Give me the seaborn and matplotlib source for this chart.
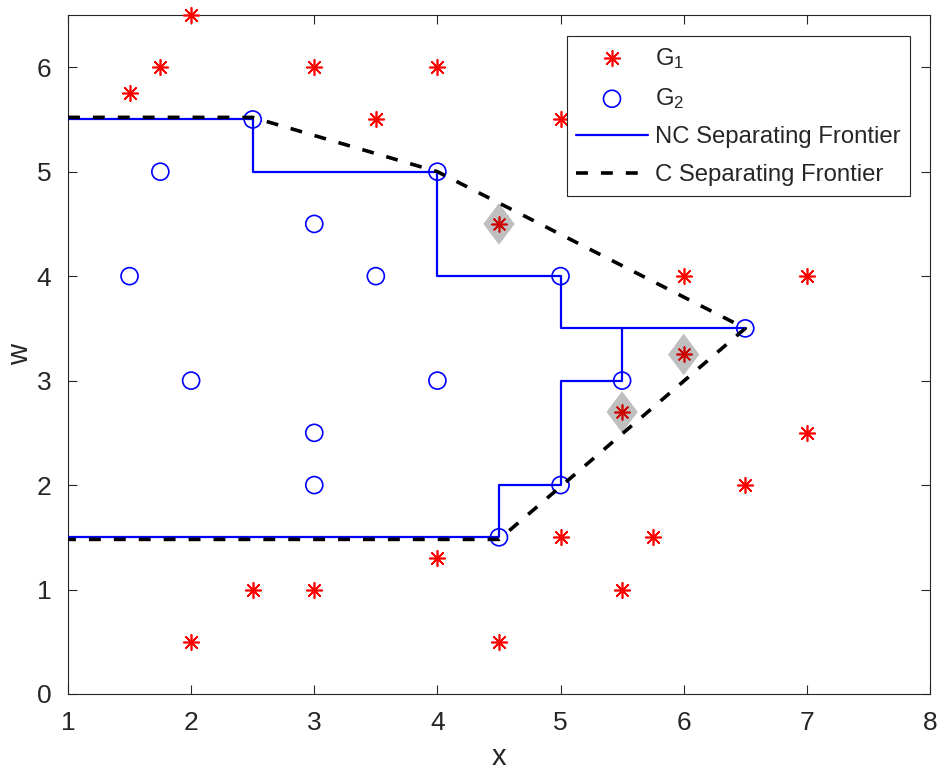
import matplotlib
matplotlib.use("Agg")
import matplotlib.pyplot as plt
import seaborn as sns
import numpy as np
from matplotlib.path import Path

# Group 1 observations (red asterisks)
g1_x = [2, 1.5, 1.75, 3, 4, 3.5, 5, 4.5, 6, 7, 6, 5.5, 7, 6.5, 5, 5.75, 4, 2.5, 3, 5.5, 2, 4.5]
g1_y = [6.5, 5.75, 6, 6, 6, 5.5, 5.5, 4.5, 4, 4, 3.25, 2.7, 2.5, 2, 1.5, 1.5, 1.3, 1, 1, 1, 0.5, 0.5]

# Group 1 observations that fall between the two frontiers (highlighted)
hl_x = [4.5, 6, 5.5]
hl_y = [4.5, 3.25, 2.7]

# Group 2 observations (blue circles)
g2_x = [2.5, 1.75, 4, 3, 1.5, 3.5, 5, 6.5, 2, 4, 5.5, 3, 3, 5, 4.5]
g2_y = [5.5, 5, 5, 4.5, 4, 4, 4, 3.5, 3, 3, 3, 2.5, 2, 2, 1.5]

# Non-convex separating frontier: upper and lower staircase
nc_up_x = [1, 2.5, 2.5, 4, 4, 5, 5, 6.5]
nc_up_y = [5.5, 5.5, 5, 5, 4, 4, 3.5, 3.5]
nc_lo_x = [1, 4.5, 4.5, 5, 5, 5.5, 5.5]
nc_lo_y = [1.5, 1.5, 2, 2, 3, 3, 3.5]

# Convex separating frontier
c_x = [1, 2.5, 4, 6.5, 4.5, 1]
c_y = [5.52, 5.52, 5, 3.5, 1.48, 1.48]

x_ticks = [1, 2, 3, 4, 5, 6, 7, 8]
y_ticks = [0, 1, 2, 3, 4, 5, 6]

sns.set_style("ticks")
plt.rcParams["font.family"] = ["Liberation Sans", "DejaVu Sans"]
plt.rcParams["mathtext.default"] = "regular"

axis_gray = "#262626"
fig = plt.figure(figsize=(9.39, 7.73), dpi=100)
ax = fig.add_axes([0.0724, 0.1022, 0.918, 0.8784])

star = (8, 2, 0)
diamond = Path([(0, 1), (0.75, 0), (0, -1), (-0.75, 0), (0, 1)],
               [Path.MOVETO, Path.LINETO, Path.LINETO, Path.LINETO, Path.CLOSEPOLY])

sns.scatterplot(x=g1_x, y=g1_y, marker=star, s=125, color="red",
                linewidth=1.2, legend=False, ax=ax, zorder=3, clip_on=False)
h_g1 = ax.collections[-1]

sns.scatterplot(x=g2_x, y=g2_y, marker="o", s=150, color="blue",
                linewidth=1.2, legend=False, ax=ax, zorder=3, clip_on=False)
h_g2 = ax.collections[-1]
h_g2.set_facecolor("none")
h_g2.set_edgecolor("blue")

sns.scatterplot(x=hl_x, y=hl_y, marker=diamond, s=900, color="#bfbfbf",
                edgecolor="none", legend=False, ax=ax, zorder=3.5)
sns.scatterplot(x=hl_x, y=hl_y, marker=star, s=115, color="#cc0000",
                linewidth=1.2, legend=False, ax=ax, zorder=3.6)

sns.lineplot(x=nc_up_x, y=nc_up_y, sort=False, estimator=None, color="blue",
             linewidth=1.6, ax=ax, zorder=4)
h_nc = ax.lines[-1]
sns.lineplot(x=nc_lo_x, y=nc_lo_y, sort=False, estimator=None, color="blue",
             linewidth=1.6, ax=ax, zorder=4)

sns.lineplot(x=c_x, y=c_y, sort=False, estimator=None, color="black",
             linewidth=2.6, ax=ax, zorder=5)
h_c = ax.lines[-1]
h_c.set_linestyle((0, (3.3, 3.6)))

ax.set_xlim(1, 8)
ax.set_ylim(0, 6.5)
ax.set_xticks(x_ticks)
ax.set_yticks(y_ticks)
ax.set_xlabel("x", fontsize=21, color=axis_gray, labelpad=6)
ax.set_ylabel("w", fontsize=21, color=axis_gray, labelpad=2)
ax.tick_params(direction="in", top=True, right=True, length=6.5, width=0.8,
               colors=axis_gray, labelsize=19, pad=12)
for sp in ax.spines.values():
    sp.set_visible(True)
    sp.set_color(axis_gray)
    sp.set_linewidth(0.8)

leg = ax.legend(handles=[h_g1, h_g2, h_nc, h_c],
                labels=["G$_1$", "G$_2$", "NC Separating Frontier", "C Separating Frontier"],
                loc="upper right", bbox_to_anchor=(0.977, 0.969), fontsize=17.2,
                frameon=True, fancybox=False, edgecolor=axis_gray, framealpha=1,
                handlelength=3.0, handletextpad=0.3, labelspacing=0.65,
                borderpad=0.4, borderaxespad=0, scatterpoints=1)
leg.get_frame().set_linewidth(0.8)
leg.set_zorder(10)

fig.savefig("out.png", dpi=100)
